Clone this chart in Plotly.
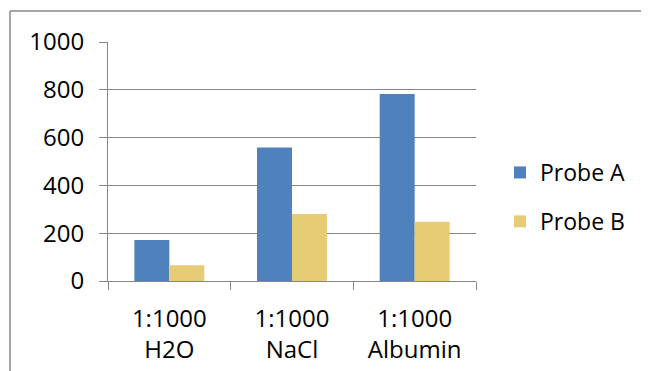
import plotly.graph_objects as go

categories = ["1:1000<br>H2O", "1:1000<br>NaCl", "1:1000<br>Albumin"]
probe_a = [172, 559, 782]
probe_b = [66, 280, 248]
y_ticks = [0, 200, 400, 600, 800, 1000]

OFF = 8  # page body margin
W, H = 649 - OFF, 371 - OFF
L, R, T, B = 108 - OFF, 476 - OFF, 42 - OFF, 281 - OFF
pw, ph = R - L, B - T

fig = go.Figure()
fig.add_trace(go.Bar(name="Probe A", x=categories, y=probe_a, marker_color="#4F81BD",
                     marker_line_width=0, legendgroup="a"))
fig.add_trace(go.Bar(name="Probe B", x=categories, y=probe_b, marker_color="#E6CC74",
                     marker_line_width=0, legendgroup="b"))

font = dict(family="Open Sans", size=24, color="#000000")
fig.update_layout(
    width=W, height=H,
    margin=dict(l=L, r=W - R, t=T, b=H - B, autoexpand=False),
    paper_bgcolor="white", plot_bgcolor="white",
    barmode="group", bargap=0.43, bargroupgap=0,
    font=font,
    showlegend=True,
    legend=dict(x=(500 - OFF - L) / pw, y=(B - (197 - OFF)) / ph, xanchor="left",
                yanchor="middle", font=dict(family="Open Sans", size=23, color="#000000"),
                tracegroupgap=16, traceorder="grouped",
                bgcolor="rgba(0,0,0,0)"),
)
fig.update_xaxes(showline=True, linecolor="#868686", linewidth=1,
                 ticks="outside", tickson="boundaries", ticklen=8, tickcolor="#868686",
                 showgrid=False, tickfont=font, ticklabelstandoff=16, automargin=False)
fig.update_yaxes(range=[0, 1000], tickvals=y_ticks, showline=True, linecolor="#868686",
                 linewidth=1, ticks="outside", ticklen=8, tickcolor="#868686",
                 showgrid=True, gridcolor="#868686", gridwidth=1, zeroline=False,
                 tickfont=font, ticklabelstandoff=10, automargin=False)

border = dict(color="#8A8A8A", width=1.5)
bx = (10 - OFF - L) / pw
by = (B - (11 - OFF)) / ph
fig.add_shape(type="line", xref="paper", yref="paper", x0=bx, x1=(W - L) / pw,
              y0=by, y1=by, line=border, layer="below")
fig.add_shape(type="line", xref="paper", yref="paper", x0=bx, x1=bx,
              y0=by, y1=(B - H) / ph, line=border, layer="below")

fig.write_html("out.html", config={"displayModeBar": False})
